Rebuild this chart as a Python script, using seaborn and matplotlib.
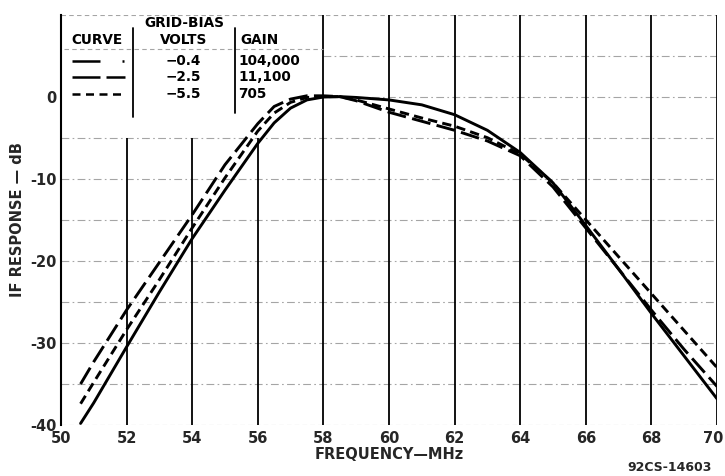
import pandas as pd
import matplotlib.pyplot as plt
import matplotlib.transforms as mtransforms
import seaborn as sns

# IF response curves, one per grid-bias setting
freq_mhz = [50.6, 51, 52, 53, 54, 55, 56, 56.5, 57, 57.5, 58, 58.5, 59,
            60, 61, 62, 63, 64, 65, 66, 67, 68, 69, 70]
resp_04 = [-39.8, -37.3, -30.5, -23.8, -17.3, -11.4, -5.7, -3.2, -1.4, -0.4,
           -0.05, 0.0, -0.1, -0.4, -1.0, -2.2, -4.1, -6.8, -10.5, -15.7,
           -21.0, -26.4, -31.6, -36.8]
resp_25 = [-35.0, -32.3, -26.0, -20.2, -14.4, -8.3, -3.3, -1.2, -0.3, 0.1,
           0.1, 0.0, -0.5, -1.9, -3.0, -4.1, -5.4, -7.2, -11.0, -16.0,
           -21.0, -26.0, -30.8, -35.3]
resp_55 = [-37.4, -34.8, -28.4, -22.3, -16.0, -9.9, -4.2, -2.0, -0.7, -0.1,
           0.0, 0.0, -0.4, -1.5, -2.6, -3.6, -5.0, -7.0, -10.5, -15.0,
           -19.5, -24.0, -28.5, -33.0]

bias_labels = ["\u22120.4", "\u22122.5", "\u22125.5"]
gain_labels = ["104,000", "11,100", "705"]

x_ticks = [50, 52, 54, 56, 58, 60, 62, 64, 66, 68, 70]
y_labels = {0: "0", -10: "-10", -20: "-20", -30: "-30", -40: "-40"}

sns.set_theme(style="white")
plt.rcParams["font.family"] = ["DejaVu Sans"]
plt.rcParams["font.weight"] = "bold"

df = pd.DataFrame({
    "freq": freq_mhz * 3,
    "db": resp_04 + resp_25 + resp_55,
    "bias": [bias_labels[0]] * len(freq_mhz)
    + [bias_labels[1]] * len(freq_mhz)
    + [bias_labels[2]] * len(freq_mhz),
})

dash_map = {
    bias_labels[0]: "",
    bias_labels[1]: (6.5, 2.2),
    bias_labels[2]: (3.2, 1.8),
}

fig = plt.figure(figsize=(7.25, 4.76), dpi=100)
ax = fig.add_axes([0.084, 0.107, 0.905, 0.8625])

# grid: vertical rules every 2 MHz, faint dash-dot horizontals every 5 dB
grid_kw = dict(color="#a5a5a5", lw=0.8, linestyles=[(0, (7, 3, 1.5, 3))])
for y in range(-35, 0, 5):
    ax.hlines(y, 50, 70, **grid_kw)
for y in (0, 5):
    ax.hlines(y, 58, 70, **grid_kw)
ax.hlines([-40, 10], 50, 70, color="#a5a5a5", lw=0.8,
          linestyles=[(0, (4, 3))])
for x in x_ticks[1:]:
    top = -5 if x < 58 else 10
    ax.vlines(x, -40, top, color="black", lw=1.3)

sns.lineplot(data=df, x="freq", y="db", style="bias", dashes=dash_map,
             color="black", linewidth=2.1, legend=False, ax=ax,
             sort=False)

ax.set_xlim(50, 70)
ax.set_ylim(-40, 10)
ax.set_xticks(x_ticks)
ax.set_xticklabels([str(v) for v in x_ticks], fontsize=10.5,
                   fontweight="bold")
ax.set_yticks(list(range(-40, 5, 5)) + [10])
ax.set_yticklabels([y_labels.get(v, "") for v in range(-40, 5, 5)] + [""],
                   fontsize=10.5, fontweight="bold")
ax.tick_params(axis="x", length=0, pad=4)
ax.tick_params(axis="y", direction="in", length=10, width=1.3, pad=3,
               color="black")
for side in ("top", "bottom", "right"):
    ax.spines[side].set_visible(False)
ax.spines["left"].set_color("black")
ax.spines["left"].set_linewidth(1.5)

# the last frequency label sits at the very edge; nudge it inside
last = ax.get_xticklabels()[-1]
last.set_transform(last.get_transform()
                   + mtransforms.ScaledTranslation(-4 / 100, 0,
                                                   fig.dpi_scale_trans))

ax.set_xlabel("FREQUENCY\u2014MHz", fontsize=10.5, fontweight="bold",
              labelpad=1)
ax.set_ylabel("IF RESPONSE \u2014 dB", fontsize=10.5, fontweight="bold",
              labelpad=4)

# legend table drawn in the blank upper-left corner
tr = ax.transAxes
txt = dict(transform=tr, fontsize=9.8, fontweight="bold", color="black")
ax.text(0.1875, 0.979, "GRID-BIAS", ha="center", va="center", **txt)
ax.text(0.055, 0.938, "CURVE", ha="center", va="center", **txt)
ax.text(0.1875, 0.938, "VOLTS", ha="center", va="center", **txt)
ax.text(0.273, 0.938, "GAIN", ha="left", va="center", **txt)
ax.plot([0.005, 0.40], [0.916, 0.916], transform=tr, color="#a5a5a5",
        lw=0.8, ls=(0, (4, 3)))
ax.plot([0.1098, 0.1098], [0.967, 0.750], transform=tr, color="black",
        lw=1.3)
ax.plot([0.265, 0.265], [0.967, 0.760], transform=tr, color="black",
        lw=1.3)

row_y = [0.887, 0.848, 0.806]
for yy, volts, gain in zip(row_y, bias_labels, gain_labels):
    ax.text(0.186, yy, volts, ha="center", va="center", **txt)
    ax.text(0.270, yy, gain, ha="left", va="center", **txt)
sample = dict(transform=tr, color="black", lw=1.8, solid_capstyle="butt")
ax.plot([0.017, 0.060], [row_y[0], row_y[0]], **sample)
ax.plot([0.093, 0.096], [row_y[0], row_y[0]], **sample)
ax.plot([0.017, 0.060], [row_y[1], row_y[1]], **sample)
ax.plot([0.068, 0.098], [row_y[1], row_y[1]], **sample)
ax.plot([0.017, 0.098], [row_y[2], row_y[2]], ls=(0, (3.2, 2.2)),
        **sample)

fig.text(0.982, 0.017, "92CS-14603", ha="right", va="center", fontsize=9,
         fontweight="bold")

fig.savefig("out.png", dpi=100)
